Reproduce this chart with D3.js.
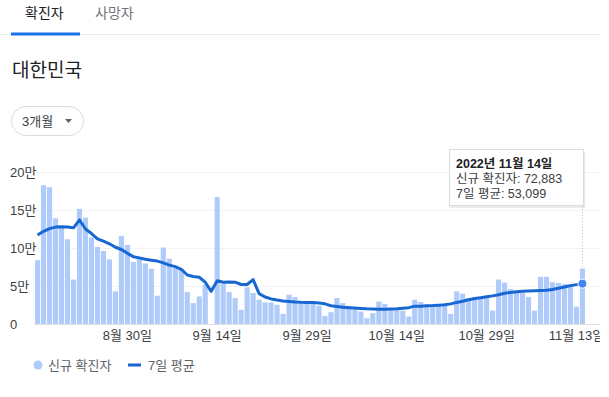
<!DOCTYPE html>
<html>
<head>
<meta charset="utf-8">
<script src="https://cdn.jsdelivr.net/npm/d3@7"></script>
<style>
  body { margin: 0; background: #fff; }
  svg { display: block; overflow: hidden; font-family: "Liberation Sans", "Noto Sans CJK KR", sans-serif; }
</style>
</head>
<body>
<div id="chart"></div>
<script>
// daily new cases, 2022-08-15 .. 2022-11-14 (null = no report that day)
const firstDay = new Date(2022, 7, 15);
const lastDay = new Date(2022, 10, 14);
const newCases = [
  84000, 182500, 180000, 139000, 127000, 111500, 58500, 151500, 140000, 114000,
  101500, 96000, 85000, 43000, 116000, 104000, 81500, 86000, 79700, 72700,
  37200, 100600, 86000, 74000, 71800, 42000, 27500, 36300, 51800, null,
  167000, 52500, 42000, 34000, 18600, 48300, 40800, 31900, 28400, 28400,
  25300, 13300, 38500, 35400, 27500, 27500, 27500, 24000, 10600, 15500,
  34100, 27500, 23900, 19500, 16400, 7500, 14200, 29500, 26500, 19000,
  18500, 17500, 9800, 31900, 29000, 25500, 25000, 25500, 24500, 13300,
  43000, 39900, 34100, 35400, 36300, 36300, 17700, 58500, 54500, 46000,
  40800, 40800, 35400, 17700, 62000, 62000, 55000, 54000, 52700, 52000,
  23000, 72883
];
// 7-day average
const avg7 = [
  117000, 122000, 125500, 127500, 128000, 127500, 126500, 137000, 125000, 119000,
  112000, 109000, 105500, 101000, 98000, 93000, 88600, 87000, 85300, 84000,
  82800, 80500, 77500, 75500, 72000, 64500, 62500, 61500, 55000, 43000,
  57000, 55000, 55400, 55000, 52000, 52000, 58500, 40000, 35500, 33000,
  31500, 30300, 29700, 29000, 28600, 28400, 28300, 27500, 26500, 24000,
  23000, 22000, 21500, 21000, 20500, 20000, 19700, 19500, 19500, 19800,
  20200, 20800, 21500, 23500, 23500, 24000, 24300, 24800, 25300, 26500,
  28400, 30000, 31800, 33500, 34500, 35800, 37000, 38500, 40500, 41500,
  42500, 43000, 43300, 43600, 44000, 44300, 45500, 47000, 48700, 50500,
  51800, 53099
];
const yTicks = [0, 50000, 100000, 150000, 200000];
const yTickLabels = ["0", "5만", "10만", "15만", "20만"];
const xTickDates = [new Date(2022, 7, 30), new Date(2022, 8, 14), new Date(2022, 8, 29),
  new Date(2022, 9, 14), new Date(2022, 9, 29), new Date(2022, 10, 13)];
const xTickLabels = ["8월 30일", "9월 14일", "9월 29일", "10월 14일", "10월 29일", "11월 13일"];
const tabs = ["확진자", "사망자"];
const tooltipLines = ["2022년 11월 14일", "신규 확진자: 72,883", "7일 평균: 53,099"];

const days = d3.timeDay.range(firstDay, d3.timeDay.offset(lastDay, 1));
const data = days.map((d, i) => ({ date: d, cases: newCases[i], avg: avg7[i] }));

const W = 600, H = 397;
const svg = d3.select("#chart").append("svg").attr("width", W).attr("height", H);

// header tabs
svg.append("line").attr("x1", 0).attr("x2", W).attr("y1", 34.5).attr("y2", 34.5)
  .attr("stroke", "#e8eaed");
svg.append("rect").attr("x", 11).attr("y", 32.5).attr("width", 69).attr("height", 3)
  .attr("fill", "#1a73e8");
svg.selectAll(".tab").data(tabs).enter().append("text")
  .attr("x", (d, i) => i === 0 ? 25 : 95).attr("y", 18)
  .attr("font-size", 14).attr("fill", (d, i) => i === 0 ? "#202124" : "#70757a")
  .text(d => d);

svg.append("text").attr("x", 12).attr("y", 77).attr("font-size", 19)
  .attr("fill", "#202124").text("대한민국");

// range dropdown
svg.append("rect").attr("x", 11.5).attr("y", 106.5).attr("width", 72).attr("height", 29)
  .attr("rx", 14.5).attr("fill", "#fff").attr("stroke", "#dadce0");
svg.append("text").attr("x", 22).attr("y", 126).attr("font-size", 13)
  .attr("fill", "#3c4043").text("3개월");
svg.append("path").attr("d", "M65,119 L72,119 L68.5,123 Z").attr("fill", "#5f6368");

// scales
const x = d3.scaleBand().domain(days.map(d => +d)).range([35, 585]).paddingInner(0.14).paddingOuter(0);
const y = d3.scaleLinear().domain([0, 200000]).range([324, 172]);

// grid + y labels
svg.append("g").selectAll("line").data(yTicks).enter().append("line")
  .attr("x1", 34).attr("x2", W).attr("y1", d => Math.round(y(d)) + 0.5).attr("y2", d => Math.round(y(d)) + 0.5)
  .attr("stroke", d => d === 0 ? "#e0e0e0" : "#f1f3f4");
svg.append("g").selectAll("text").data(yTicks).enter().append("text")
  .attr("x", 10).attr("y", d => y(d) + 5)
  .attr("font-size", 13).attr("fill", "#3c4043")
  .text((d, i) => yTickLabels[i]);

// bars
svg.append("g").selectAll("rect").data(data.filter(d => d.cases != null)).enter().append("rect")
  .attr("x", d => x(+d.date)).attr("width", x.bandwidth())
  .attr("y", d => y(d.cases)).attr("height", d => y(0) - y(d.cases))
  .attr("fill", "#aecbfa");

// x axis
const xAxis = svg.append("g").attr("transform", "translate(0,324)")
  .call(d3.axisBottom(x).tickValues(xTickDates.map(d => +d)).tickSize(0).tickPadding(7)
    .tickFormat((d, i) => xTickLabels[i]));
xAxis.select(".domain").remove();
xAxis.selectAll("text").attr("font-size", 13).attr("fill", "#3c4043")
  .style("font-family", "\"Liberation Sans\", \"Noto Sans CJK KR\", sans-serif");

// hover guide
const last = data[data.length - 1];
const cx = x(+last.date) + x.bandwidth() / 2;
svg.append("line").attr("x1", cx).attr("x2", cx).attr("y1", 206).attr("y2", 324)
  .attr("stroke", "#bdc1c6").attr("stroke-dasharray", "1,2");

// 7-day average line
const line = d3.line().x(d => x(+d.date) + x.bandwidth() / 2).y(d => y(d.avg));
svg.append("path").datum(data).attr("d", line)
  .attr("fill", "none").attr("stroke", "#1967d2").attr("stroke-width", 3)
  .attr("stroke-linejoin", "round");
svg.append("circle").attr("cx", cx).attr("cy", y(last.avg)).attr("r", 4.5)
  .attr("fill", "#4285f4").attr("stroke", "#fff").attr("stroke-width", 1);

// tooltip
const tip = svg.append("g").attr("transform", "translate(449,149)");
tip.append("rect").attr("x", 1).attr("y", 2).attr("width", 135).attr("height", 57)
  .attr("fill", "#000").attr("opacity", 0.08);
tip.append("rect").attr("x", 0.5).attr("y", 0.5).attr("width", 134).attr("height", 56)
  .attr("fill", "#fff").attr("stroke", "#dadce0");
tip.selectAll("text").data(tooltipLines).enter().append("text")
  .attr("x", 7).attr("y", (d, i) => 19 + i * 15)
  .attr("font-size", 12.5).attr("fill", (d, i) => i === 0 ? "#202124" : "#3c4043")
  .attr("font-weight", (d, i) => i === 0 ? "bold" : "normal")
  .text(d => d);

// legend
const lg = svg.append("g").attr("transform", "translate(0,365)");
lg.append("circle").attr("cx", 38).attr("cy", 0).attr("r", 4.5).attr("fill", "#aecbfa");
lg.append("text").attr("x", 48).attr("y", 5).attr("font-size", 13).attr("fill", "#5f6368").text("신규 확진자");
lg.append("line").attr("x1", 128).attr("x2", 141).attr("y1", 0).attr("y2", 0)
  .attr("stroke", "#1967d2").attr("stroke-width", 3);
lg.append("text").attr("x", 148).attr("y", 5).attr("font-size", 13).attr("fill", "#5f6368").text("7일 평균");
</script>
</body>
</html>
